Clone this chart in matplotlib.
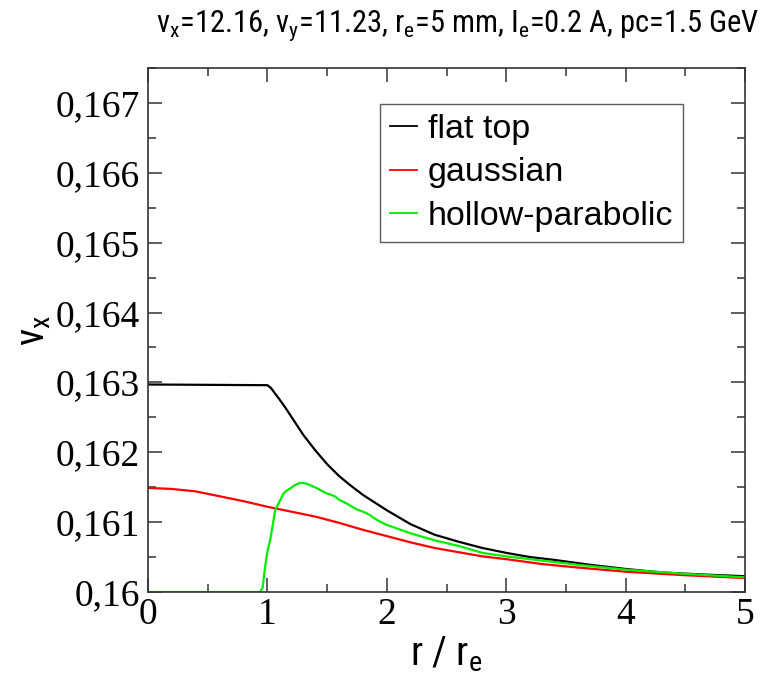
import matplotlib
matplotlib.use("Agg")
import matplotlib.pyplot as plt
from matplotlib import font_manager
from matplotlib.ticker import MultipleLocator, FuncFormatter

# tune shift vs. beam offset for three electron-lens profiles
r_flat = [0.0, 1.0, 1.03, 1.06, 1.1, 1.15, 1.2, 1.3, 1.4, 1.5, 1.6, 1.7, 1.8,
          1.9, 2.0, 2.2, 2.4, 2.6, 2.8, 3.0, 3.2, 3.4, 3.7, 4.0, 4.3, 4.65, 5.0]
nu_flat = [0.16297, 0.16296, 0.16292, 0.16285, 0.16276, 0.16264, 0.16251,
           0.16225, 0.16203, 0.16183, 0.16166, 0.16152, 0.16139, 0.16128,
           0.16117, 0.16097, 0.16082, 0.16072, 0.16063, 0.16056, 0.1605,
           0.16046, 0.16039, 0.16033, 0.16028, 0.16025, 0.160226]

r_gauss = [0.0, 0.2, 0.4, 0.6, 0.8, 1.0, 1.2, 1.4, 1.6, 1.8, 2.0, 2.2, 2.4, 2.6,
           2.8, 3.0, 3.3, 3.6, 4.0, 4.5, 5.0]
nu_gauss = [0.16149, 0.161475, 0.16144, 0.16137, 0.1613, 0.16122, 0.16115,
            0.16108, 0.16099, 0.16089, 0.1608, 0.16071, 0.16063, 0.16057,
            0.16051, 0.16047, 0.1604, 0.16035, 0.16029, 0.16024, 0.1602]

r_hollow = [0.0, 0.94, 0.96, 0.981, 1.0, 1.023, 1.045, 1.065, 1.079, 1.1, 1.121,
            1.135, 1.16, 1.191, 1.23, 1.275, 1.32, 1.359, 1.41, 1.471, 1.50,
            1.541, 1.57, 1.6, 1.65, 1.7, 1.75, 1.8, 1.85, 1.9, 1.95, 2.0, 2.2,
            2.4, 2.6, 2.8, 3.0, 3.3, 3.6, 4.0, 4.5, 5.0]
nu_hollow = [0.16, 0.16, 0.16006, 0.160362, 0.16058, 0.160743, 0.16096, 0.161171,
             0.161219, 0.16129, 0.161362, 0.16141, 0.16145, 0.161481, 0.16153,
             0.161562, 0.161555, 0.161529, 0.16149, 0.161433, 0.16141, 0.161386,
             0.161365, 0.16132, 0.16128, 0.16123, 0.161181, 0.16115, 0.16111,
             0.16105, 0.161, 0.16096, 0.16084, 0.16074, 0.16066, 0.16056,
             0.16051, 0.16045, 0.16039, 0.16032, 0.16026, 0.16021]

# pick a condensed sans for the title and axis labels if one is installed
fonts = font_manager.fontManager.ttflist
names = {f.name for f in fonts}
narrow, stretch = "Liberation Sans", "normal"
for cand in ["Liberation Sans Narrow", "Roboto Condensed", "Open Sans Condensed"]:
    if cand in names:
        narrow = cand
        break
else:
    if any(f.name == "DejaVu Sans" and f.stretch == "condensed" for f in fonts):
        narrow, stretch = "DejaVu Sans", "condensed"
is_narrow = narrow != "Liberation Sans"

plt.rcParams["mathtext.default"] = "regular"
plt.rcParams["font.family"] = ["Liberation Sans", "DejaVu Sans"]

fig = plt.figure(figsize=(7.71, 6.87), dpi=100)
ax = fig.add_axes([148 / 771, 1 - 592 / 687, (745 - 148) / 771, (592 - 68) / 687])

ax.plot(r_flat, nu_flat, color="black", lw=1.6, label="flat top")
ax.plot(r_gauss, nu_gauss, color="#ff0000", lw=1.6, label="gaussian")
ax.plot(r_hollow, nu_hollow, color="#00ee00", lw=1.6, label="hollow-parabolic")

ax.set_xlim(0, 5)
ax.set_ylim(0.16, 0.1675)
ax.xaxis.set_major_locator(MultipleLocator(1))
ax.xaxis.set_minor_locator(MultipleLocator(0.5))
ax.yaxis.set_major_locator(MultipleLocator(0.001))
ax.yaxis.set_minor_locator(MultipleLocator(0.0005))


def comma(v, pos):
    s = f"{v:.3f}".rstrip("0")
    return s.replace(".", ",")


ax.yaxis.set_major_formatter(FuncFormatter(comma))
ax.xaxis.set_major_formatter(FuncFormatter(lambda v, p: f"{v:.0f}"))

ax.tick_params(which="both", direction="in", top=True, right=True,
               color="#333333", width=1.1)
ax.tick_params(which="major", length=10)
ax.tick_params(which="minor", length=6)
ax.tick_params(axis="y", pad=6)
ax.tick_params(axis="x", pad=4)
for lab in ax.get_xticklabels() + ax.get_yticklabels():
    lab.set_fontfamily("Liberation Serif")
    lab.set_fontsize(27)
for sp in ax.spines.values():
    sp.set_linewidth(1.2)
    sp.set_color("#333333")

ax.set_xlabel("r / r$_e$", fontsize=29, fontfamily=narrow, fontstretch=stretch,
              labelpad=2)
ax.set_ylabel("ν$_x$", fontsize=29, fontfamily=narrow, fontstretch=stretch,
              labelpad=2)
ax.set_title("ν$_x$=12.16, ν$_y$=11.23, r$_e$=5 mm, I$_e$=0.2 A, pc=1.5 GeV",
             fontsize=22 if is_narrow else 17.5, fontfamily=narrow,
             fontstretch=stretch, pad=26, x=0.518)

leg = ax.legend(loc="upper left", bbox_to_anchor=(380 / 771, 1 - 104 / 687),
                bbox_transform=fig.transFigure, fontsize=24.5, frameon=True,
                fancybox=False, handlelength=0.8, handletextpad=0.3,
                labelspacing=0.36, borderpad=0.3, borderaxespad=0)
leg.get_frame().set_edgecolor("#333333")
leg.get_frame().set_linewidth(1.0)
for h in leg.get_lines():
    h.set_linewidth(1.3)

fig.savefig("out.png", dpi=100)
